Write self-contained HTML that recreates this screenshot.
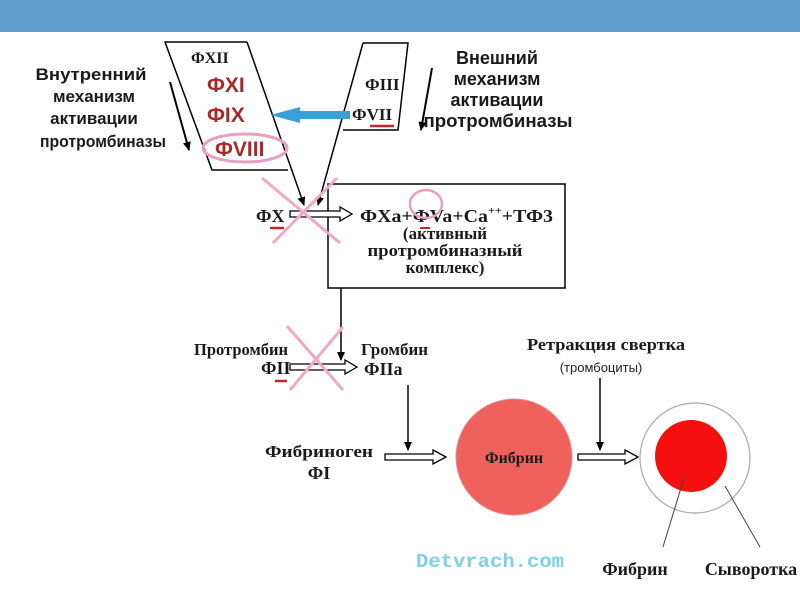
<!DOCTYPE html>
<html><head><meta charset="utf-8"><style>
html,body{margin:0;padding:0;background:#fff;}
svg{display:block;}
.s{font-family:"Liberation Sans",sans-serif;font-weight:bold;fill:#1a1a1a;}
.r{font-family:"Liberation Serif",serif;font-weight:bold;fill:#1a1a1a;}
</style></head><body>
<svg width="800" height="600" viewBox="0 0 800 600" xmlns="http://www.w3.org/2000/svg">
<defs>
<marker id="ah" markerWidth="10" markerHeight="10" refX="8" refY="5" orient="auto" markerUnits="userSpaceOnUse"><path d="M0,1 L9,5 L0,9 Z" fill="#000"/></marker>
</defs>
<rect x="0" y="0" width="800" height="32" fill="#629fcf"/>

<!-- left label -->
<g class="s" font-size="17" text-anchor="middle">
<text x="91" y="80" textLength="111" lengthAdjust="spacingAndGlyphs">Внутренний</text>
<text x="94" y="102">механизм</text>
<text x="94" y="124">активации</text>
<text x="103" y="147" textLength="126" lengthAdjust="spacingAndGlyphs">протромбиназы</text>
</g>
<line x1="170" y1="82" x2="189" y2="150" stroke="#000" stroke-width="2" marker-end="url(#ah)"/>

<!-- right label -->
<g class="s" font-size="18" text-anchor="middle">
<text x="497" y="64">Внешний</text>
<text x="497" y="85">механизм</text>
<text x="497" y="106">активации</text>
<text x="498" y="127" textLength="149" lengthAdjust="spacingAndGlyphs">протромбиназы</text>
</g>
<line x1="432" y1="68" x2="421" y2="130" stroke="#000" stroke-width="2" marker-end="url(#ah)"/>

<!-- left parallelogram -->
<polyline points="247,42 165,42 212,170 288,170" fill="none" stroke="#000" stroke-width="1.5"/>
<line x1="247" y1="42" x2="304" y2="205" stroke="#000" stroke-width="1.5" marker-end="url(#ah)"/>
<text class="r" x="191" y="63" font-size="16" font-weight="normal">ФXII</text>
<g font-family="'Liberation Sans',sans-serif" font-weight="bold" fill="#a52a2a" font-size="21">
<text x="207" y="92">ФXI</text>
<text x="207" y="122">ФIX</text>
<text x="215" y="156">ФVIII</text>
</g>
<ellipse cx="245" cy="148" rx="42" ry="14" fill="none" stroke="#e8a0c0" stroke-width="3"/>

<!-- right parallelogram -->
<polyline points="363,43 408,43 398,130 343,130" fill="none" stroke="#000" stroke-width="1.5"/>
<line x1="363" y1="43" x2="318" y2="205" stroke="#000" stroke-width="1.5" marker-end="url(#ah)"/>
<text class="r" x="365" y="90" font-size="17" font-weight="normal">ФIII</text>
<text class="r" x="352" y="120" font-size="17" font-weight="normal">ФVII</text>
<line x1="370" y1="126" x2="394" y2="126" stroke="#c0282d" stroke-width="2.5"/>
<path d="M350,111 L300,111 L300,107 L270,115 L300,123 L300,119 L350,119 Z" fill="#3aa0d8"/>

<!-- box -->
<rect x="328" y="184" width="237" height="104" fill="none" stroke="#000" stroke-width="1.5"/>
<text class="r" x="256" y="222" font-size="18" font-weight="normal">ФX</text>
<line x1="270" y1="228" x2="284" y2="228" stroke="#c0282d" stroke-width="2.5"/>
<path d="M290,211 L340,211 L340,207 L352,214 L340,221 L340,217 L290,217 Z" fill="#fff" stroke="#000" stroke-width="1.3"/>
<text class="r" x="360" y="222" font-size="18" font-weight="normal" textLength="193" lengthAdjust="spacingAndGlyphs">ФXa+ФVa+Ca<tspan font-size="11" dy="-8">++</tspan><tspan dy="8">+ТФ3</tspan></text>
<line x1="420" y1="228" x2="430" y2="228" stroke="#c0282d" stroke-width="2"/>
<ellipse cx="426" cy="204" rx="16" ry="14" fill="none" stroke="#e8a0c0" stroke-width="2.5"/>
<g class="r" font-size="17" text-anchor="middle">
<text x="445" y="239">(активный</text>
<text x="445" y="256" textLength="155" lengthAdjust="spacingAndGlyphs">протромбиназный</text>
<text x="445" y="273">комплекс)</text>
</g>
<line x1="262" y1="178" x2="340" y2="243" stroke="#f0a8c4" stroke-width="3"/>
<line x1="337" y1="178" x2="273" y2="243" stroke="#f0a8c4" stroke-width="3"/>

<!-- prothrombin -->
<line x1="341" y1="288" x2="341" y2="360" stroke="#000" stroke-width="1.5" marker-end="url(#ah)"/>
<text class="r" x="194" y="355" font-size="17" textLength="94" lengthAdjust="spacingAndGlyphs">Протромбин</text>
<text class="r" x="261" y="374" font-size="18" font-weight="normal">ФII</text>
<line x1="275" y1="381" x2="287" y2="381" stroke="#c0282d" stroke-width="2.5"/>
<path d="M290,364 L345,364 L345,360 L357,367 L345,374 L345,370 L290,370 Z" fill="#fff" stroke="#000" stroke-width="1.3"/>
<text class="r" x="361" y="355" font-size="17">Громбин</text>
<text class="r" x="364" y="375" font-size="18" font-weight="normal">ФIIa</text>
<line x1="287" y1="326" x2="343" y2="390" stroke="#f0a8c4" stroke-width="3"/>
<line x1="343" y1="327" x2="290" y2="390" stroke="#f0a8c4" stroke-width="3"/>

<!-- fibrinogen -->
<line x1="408" y1="385" x2="408" y2="450" stroke="#000" stroke-width="1.5" marker-end="url(#ah)"/>
<text class="r" x="319" y="457" font-size="17" text-anchor="middle" textLength="108" lengthAdjust="spacingAndGlyphs">Фибриноген</text>
<text class="r" x="319" y="479" font-size="18" text-anchor="middle">ФI</text>
<path d="M385,454 L433,454 L433,450 L446,457 L433,464 L433,460 L385,460 Z" fill="#fff" stroke="#000" stroke-width="1.3"/>
<circle cx="514" cy="457" r="58" fill="#f0605c" stroke="#e09090" stroke-width="1"/>
<text class="r" x="514" y="463" font-size="16" text-anchor="middle" fill="#5a0a0a">Фибрин</text>

<!-- retraction -->
<text class="r" x="606" y="350" font-size="17" text-anchor="middle" textLength="158" lengthAdjust="spacingAndGlyphs">Ретракция свертка</text>
<text x="601" y="372" font-size="13" text-anchor="middle" font-family="'Liberation Sans',sans-serif" fill="#222">(тромбоциты)</text>
<line x1="600" y1="378" x2="600" y2="450" stroke="#000" stroke-width="1.5" marker-end="url(#ah)"/>
<path d="M578,454 L625,454 L625,450 L638,457 L625,464 L625,460 L578,460 Z" fill="#fff" stroke="#000" stroke-width="1.3"/>
<circle cx="695" cy="458" r="55" fill="#fff" stroke="#aaa" stroke-width="1.2"/>
<circle cx="691" cy="456" r="36" fill="#f50f0f"/>
<line x1="684" y1="478" x2="663" y2="547" stroke="#444" stroke-width="1"/>
<line x1="725" y1="486" x2="760" y2="547" stroke="#444" stroke-width="1"/>
<text class="r" x="635" y="575" font-size="18" text-anchor="middle">Фибрин</text>
<text class="r" x="751" y="575" font-size="18" text-anchor="middle">Сыворотка</text>
<text x="490" y="567" font-size="19" text-anchor="middle" font-family="'Liberation Mono',monospace" font-weight="bold" fill="#7fd0e6" textLength="148" lengthAdjust="spacingAndGlyphs">Detvrach.com</text>
</svg>
</body></html>
